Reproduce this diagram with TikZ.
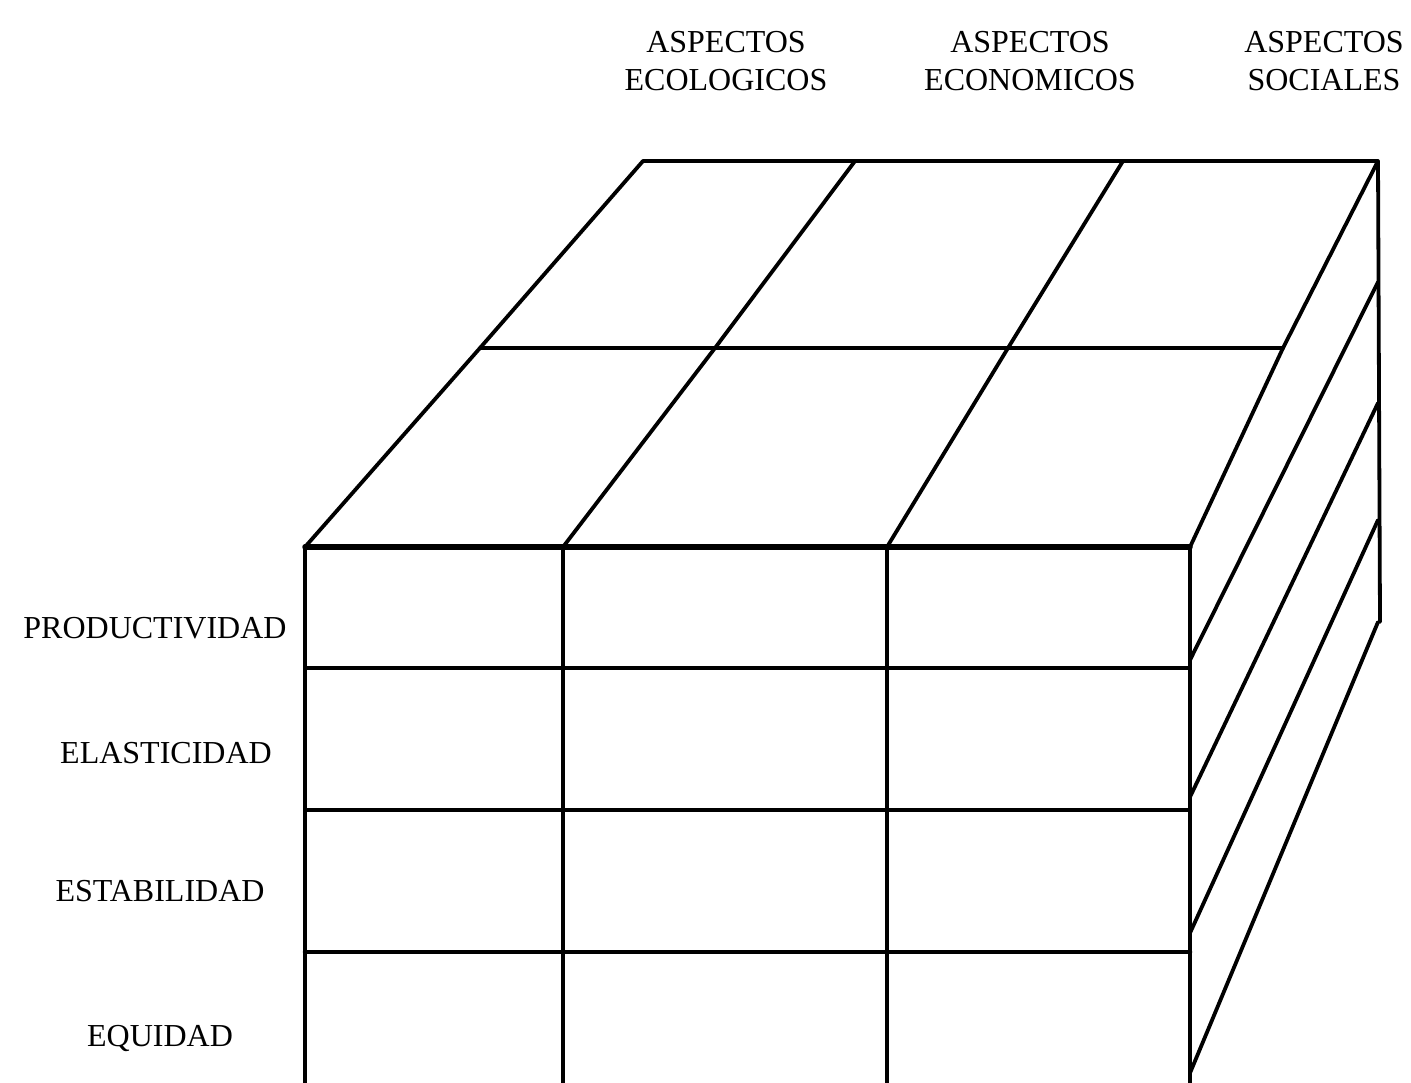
\documentclass[tikz,border=0pt]{standalone}
\usepackage{fontspec}
\setmainfont{Liberation Serif}
\usepackage{tikz}
\usetikzlibrary{positioning}
\tikzset{
  aspecto/.style={align=center, font=\fontsize{32}{38}\selectfont, inner sep=0pt},
  criterio/.style={font=\fontsize{32}{38}\selectfont, inner sep=0pt},
  arista/.style={draw=black, line width=3.8pt, line cap=round, line join=round},
  aristag/.style={arista, line width=5.5pt},
}

\begin{document}
\begin{tikzpicture}[x=1pt, y=-1pt]
\useasboundingbox (0,0) rectangle (1411,1083);

% esquinas del cubo
\coordinate (ftl) at (305,547);
\coordinate (ftr) at (1190,547);
\coordinate (btl) at (643,161);
\coordinate (btr) at (1378,161);
\coordinate (bbr) at (1380,622);

% cara frontal
\foreach \xa in {305,563,887,1190}
  \draw[arista] (\xa,547) -- (\xa,1083);
\foreach \ya in {668,810}
  \draw[arista] (305,\ya) -- (1190,\ya);
\draw[aristag, line width=4.5pt] (305,952) -- (1190,952);
\draw[aristag] (ftl) -- (ftr);

% cara superior
\draw[arista] (ftl) -- (480,348) -- (btl) -- (btr) -- (1283,348) -- (ftr);
\draw[arista] (480,348) -- (1283,348);
\draw[arista] (563,547) -- (715,348) -- (855,161);
\draw[arista] (887,547) -- (1008,348) -- (1123,161);

% cara lateral
\draw[arista] (btr) -- (bbr);
\foreach \yf/\yb in {660/282, 797/403, 933/520, 1073/622}
  \draw[arista] (1190,\yf) -- (1378,\yb);

% columnas
\node[aspecto] (eco) at (726,61) {ASPECTOS\\ECOLOGICOS};
\node[aspecto] (econ) at (1030,61) {ASPECTOS\\ECONOMICOS};
\node[aspecto] (soc) at (1324,61) {ASPECTOS\\SOCIALES};

% filas
\node[criterio] (prod) at (155,628) {PRODUCTIVIDAD};
\node[criterio] (elas) at (166,753) {ELASTICIDAD};
\node[criterio] (estab) at (160,891) {ESTABILIDAD};
\node[criterio] (equi) at (160,1038) {EQUIDAD};
\end{tikzpicture}
\end{document}
